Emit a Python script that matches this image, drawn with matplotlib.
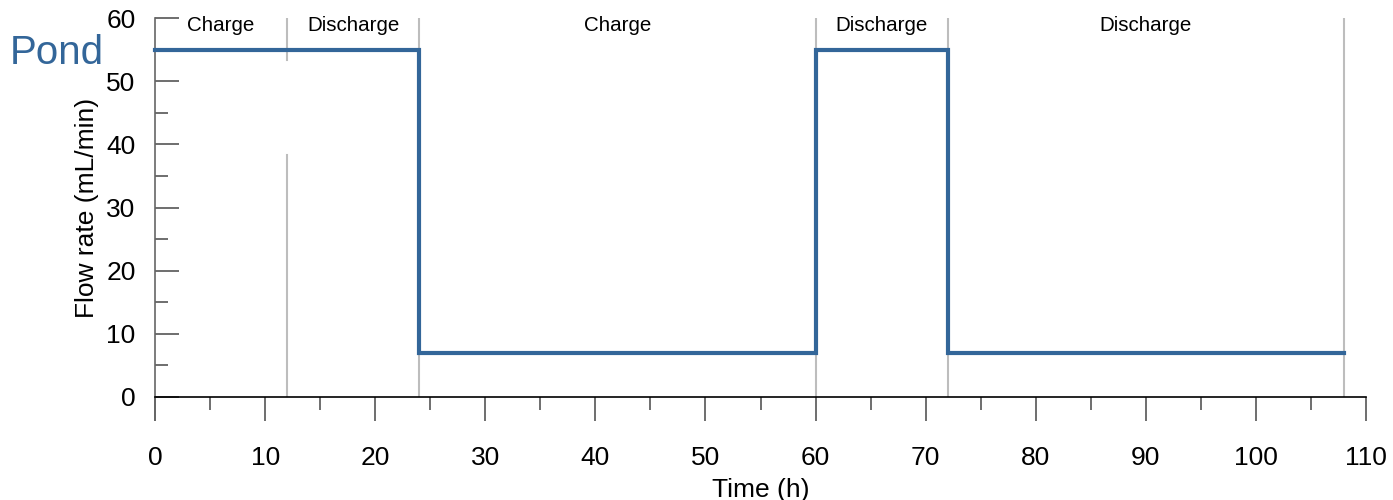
"""Pond flow rate over charge/discharge phases."""

import matplotlib.pyplot as plt
import numpy as np

plt.rcParams["font.family"] = ["Liberation Sans", "DejaVu Sans"]

# phase boundaries (h), labels and flow rate in each phase (mL/min)
phase_edges = [0, 12, 24, 60, 72, 108]
phase_labels = ["Charge", "Discharge", "Charge", "Discharge", "Discharge"]
flow_rates = [55, 55, 7, 55, 7]

LINE_COLOR = "#336699"
GRID_COLOR = "#bdbdbd"


def main() -> None:
    fig = plt.figure(figsize=(13.93, 5.0), dpi=100)
    ax = fig.add_axes([0.1113, 0.206, 0.8693, 0.758])

    # phase separators (the one at 12 h has a gap behind the top-left label)
    for edge in phase_edges[1:]:
        if edge == 12:
            ax.plot([edge, edge], [0, 38.3], color=GRID_COLOR, lw=1.5)
            ax.plot([edge, edge], [53.3, 60], color=GRID_COLOR, lw=1.5)
        else:
            ax.plot([edge, edge], [0, 60], color=GRID_COLOR, lw=1.5)

    for left, right, label in zip(phase_edges[:-1], phase_edges[1:], phase_labels):
        ax.text((left + right) / 2, 58.8, label, ha="center", va="center", fontsize=14.8)

    ax.plot(
        phase_edges,
        flow_rates + [flow_rates[-1]],
        drawstyle="steps-post",
        color=LINE_COLOR,
        lw=3.0,
        solid_joinstyle="miter",
        clip_on=False,
        zorder=3,
    )

    ax.set_xlim(0, 110)
    ax.set_ylim(0, 60)

    for side in ("top", "right", "left"):
        ax.spines[side].set_visible(False)
    ax.spines["bottom"].set_color("black")
    ax.spines["bottom"].set_linewidth(1.2)
    # left axis line reaches below zero, down to the x tick ends
    ax.plot([0, 0], [-3.65, 60], color="#666666", lw=1.2, clip_on=False)

    ax.set_xticks(np.arange(0, 111, 10))
    ax.set_xticks(np.arange(5, 110, 10), minor=True)
    ax.set_yticks(np.arange(0, 61, 10))
    ax.set_yticks(np.arange(5, 60, 10), minor=True)

    ax.tick_params(axis="x", which="major", direction="out", length=17, width=1.2,
                   color="#555555", labelsize=19, pad=18)
    ax.tick_params(axis="x", which="minor", direction="out", length=9, width=1.2,
                   color="#555555")
    ax.tick_params(axis="y", which="major", direction="in", length=17, width=1.2,
                   color="#555555", labelsize=19, pad=14)
    ax.tick_params(axis="y", which="minor", direction="in", length=9, width=1.2,
                   color="#555555")

    ax.set_xlabel("Time (h)", fontsize=19, labelpad=6)
    ax.set_ylabel("Flow rate (mL/min)", fontsize=19, labelpad=5)

    fig.text(0.007, 0.895, "Pond", color=LINE_COLOR, fontsize=29, va="center", ha="left")

    fig.savefig("out.png", dpi=100)


if __name__ == "__main__":
    main()
